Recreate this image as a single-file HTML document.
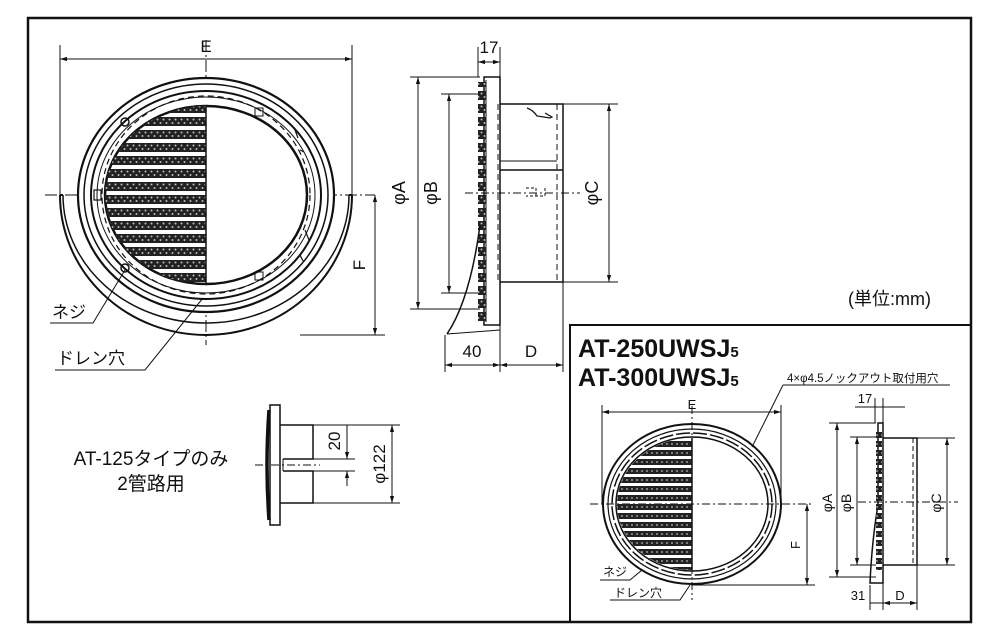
<!DOCTYPE html>
<html><head><meta charset="utf-8"><style>
html,body{margin:0;padding:0;background:#fff;}
svg{display:block;}
text{font-family:"Liberation Sans","Noto Sans CJK JP",sans-serif;fill:#111;}
</style></head><body>
<svg width="1000" height="642" viewBox="0 0 1000 642" xmlns="http://www.w3.org/2000/svg">
<defs>
<pattern id="grille" x="0" y="0" width="6" height="13" patternUnits="userSpaceOnUse">
<rect x="0" y="0" width="6" height="9" fill="#222"/>
<circle cx="1.5" cy="2.5" r="1" fill="#bbb"/><circle cx="4.5" cy="6" r="1" fill="#bbb"/>
</pattern>
<pattern id="grille2" x="0" y="0" width="5" height="9" patternUnits="userSpaceOnUse">
<rect x="0" y="0" width="5" height="6" fill="#222"/>
<circle cx="2" cy="3" r="0.9" fill="#bbb"/>
</pattern>
<clipPath id="lh"><rect x="90" y="90" width="116" height="210"/></clipPath>
<clipPath id="lh2"><rect x="610" y="420" width="82" height="170"/></clipPath>
<marker id="ar" viewBox="0 0 10 10" refX="10" refY="5" markerWidth="7" markerHeight="7" orient="auto-start-reverse"><path d="M0,2 L10,5 L0,8 z" fill="#111"/></marker>
</defs>
<g fill="none" stroke="#111">
<!-- outer frame -->
<rect x="28" y="18" width="943" height="604" stroke-width="2.5"/>
<rect x="570" y="325" width="401" height="297" stroke-width="2"/>

<!-- ===== main front view ===== -->
<g stroke-width="1">
<line x1="60" y1="45" x2="60" y2="195"/><line x1="352" y1="45" x2="352" y2="195"/>
<line x1="60" y1="59" x2="352" y2="59" marker-start="url(#ar)" marker-end="url(#ar)"/>
<line x1="45" y1="195" x2="375" y2="195" stroke-dasharray="12,3,2,3"/>
<line x1="206" y1="40" x2="206" y2="345" stroke-dasharray="12,3,2,3"/>
<line x1="300" y1="335" x2="385" y2="335"/>
<line x1="375" y1="195" x2="375" y2="335" marker-start="url(#ar)" marker-end="url(#ar)"/>
</g>
<!-- hood -->
<path d="M60,195 A146,140 0 0 0 352,195" stroke-width="2"/>
<path d="M63,195 A143,128 0 0 0 349,195" stroke-width="1.5"/>
<line x1="60" y1="195" x2="63" y2="195" stroke-width="2"/>
<line x1="349" y1="195" x2="352" y2="195" stroke-width="2"/>
<ellipse cx="206" cy="195" rx="128" ry="117" stroke-width="2.2" fill="#fff"/>
<ellipse cx="206" cy="195" rx="122" ry="111" stroke-width="1.5"/>
<ellipse cx="206" cy="195" rx="115" ry="104" stroke-width="2"/>
<ellipse cx="206" cy="195" rx="109" ry="98" stroke-width="1"/>
<ellipse cx="206" cy="195" rx="104" ry="99" stroke-dasharray="6,4" stroke-width="1.2"/>
<ellipse cx="206" cy="195" rx="101" ry="89" stroke-width="2.5"/>
<g clip-path="url(#lh)"><ellipse cx="206" cy="195" rx="101" ry="89" fill="url(#grille)" stroke="none"/></g>
<line x1="206" y1="106" x2="206" y2="285" stroke-width="1.5"/>
<circle cx="125" cy="122" r="4" stroke-width="1.5"/>
<circle cx="125" cy="268" r="4" stroke-width="1.5"/>
<rect x="94" y="190" width="7" height="10" stroke-width="1.2"/>
<path d="M295,130 l3,8 M300,150 l4,2 M305,230 l4,10 M300,255 l3,6" stroke-width="1.2"/>
<rect x="255" y="108" width="8" height="8" stroke-width="1"/>
<rect x="255" y="272" width="8" height="8" stroke-width="1"/>
<!-- leaders -->
<path d="M50,323 L93,323 L125,270" stroke-width="1"/>
<path d="M55,370 L145,370 L203,298" stroke-width="1"/>

<!-- ===== main side view ===== -->
<g stroke-width="1">
<line x1="478" y1="47" x2="478" y2="77"/><line x1="500" y1="47" x2="500" y2="77"/>
<line x1="478" y1="62" x2="500" y2="62" marker-start="url(#ar)" marker-end="url(#ar)"/>
<line x1="410" y1="77" x2="480" y2="77"/><line x1="410" y1="309" x2="480" y2="309"/>
<line x1="418" y1="77" x2="418" y2="309" marker-start="url(#ar)" marker-end="url(#ar)"/>
<line x1="441" y1="94" x2="480" y2="94"/><line x1="441" y1="293" x2="480" y2="293"/>
<line x1="449" y1="94" x2="449" y2="293" marker-start="url(#ar)" marker-end="url(#ar)"/>
<line x1="563" y1="104" x2="618" y2="104"/><line x1="563" y1="282" x2="618" y2="282"/>
<line x1="609" y1="104" x2="609" y2="282" marker-start="url(#ar)" marker-end="url(#ar)"/>
<line x1="465" y1="193" x2="580" y2="193" stroke-dasharray="8,3,2,3"/>
<line x1="445" y1="335" x2="445" y2="372"/><line x1="500" y1="325" x2="500" y2="372"/><line x1="563" y1="282" x2="563" y2="372"/>
<line x1="445" y1="365" x2="500" y2="365" marker-start="url(#ar)" marker-end="url(#ar)"/>
<line x1="500" y1="365" x2="563" y2="365" marker-start="url(#ar)" marker-end="url(#ar)"/>
</g>
<path d="M484,77 L500,77 L500,325 L484,325 Z" stroke-width="1.5"/>
<path d="M486,80 L486,322" stroke-width="1"/>
<rect x="478" y="82" width="8" height="240" fill="url(#grille)" stroke="none"/>
<path d="M447,334 Q470,300 480,225" stroke-width="1.5"/>
<path d="M447,334 L500,330" stroke-width="1"/>
<path d="M500,104 L563,104 L563,282 L500,282" stroke-width="1.5"/>
<line x1="557" y1="104" x2="557" y2="282" stroke-dasharray="6,4"/>
<line x1="500" y1="161" x2="557" y2="161"/><line x1="500" y1="170" x2="563" y2="170" stroke-width="1.5"/>
<path d="M527,108 Q533,110 537,116 L550,118 L552,117 L545,113" stroke-width="1.2"/>
<path d="M526,188 h10 v8 M545,188 v8 h-19" stroke-dasharray="3,2"/>
<line x1="498" y1="104" x2="498" y2="282" stroke-dasharray="6,4"/>

<!-- ===== lower-left side view ===== -->
<path d="M270,405 L280,405 L280,525 L270,525 Z" stroke-width="1.5"/>
<path d="M269,410 Q265,465 269,520" stroke-width="3.5"/>
<path d="M280,425 L313,425 L313,459 L283,459 M283,471 L313,471 L313,503 L280,503" stroke-width="1.5"/>
<line x1="283" y1="459" x2="283" y2="471"/>
<g stroke-width="1">
<line x1="255" y1="465" x2="320" y2="465" stroke-dasharray="8,3,2,3"/>
<line x1="313" y1="425" x2="400" y2="425"/><line x1="313" y1="503" x2="400" y2="503"/>
<line x1="313" y1="459" x2="355" y2="459"/><line x1="313" y1="471" x2="355" y2="471"/>
<line x1="347" y1="425" x2="347" y2="459" marker-end="url(#ar)"/>
<line x1="347" y1="486" x2="347" y2="471" marker-end="url(#ar)"/>
<line x1="392" y1="425" x2="392" y2="503" marker-start="url(#ar)" marker-end="url(#ar)"/>
</g>

<!-- ===== small front view ===== -->
<g stroke-width="1">
<line x1="602" y1="405" x2="602" y2="504"/><line x1="781" y1="405" x2="781" y2="504"/>
<line x1="602" y1="412" x2="781" y2="412" marker-start="url(#ar)" marker-end="url(#ar)"/>
<line x1="590" y1="504" x2="812" y2="504" stroke-dasharray="8,3,2,3"/>
<line x1="692" y1="406" x2="692" y2="600" stroke-dasharray="8,3,2,3"/>
<line x1="692" y1="585" x2="815" y2="585"/>
<line x1="807" y1="504" x2="807" y2="585" marker-start="url(#ar)" marker-end="url(#ar)"/>
</g>
<ellipse cx="692" cy="504" rx="89" ry="80" stroke-width="2"/>
<ellipse cx="692" cy="504" rx="84" ry="75" stroke-width="1.2"/>
<ellipse cx="692" cy="504" rx="80" ry="71" stroke-width="1.5" stroke-dasharray="14,3"/>
<ellipse cx="692" cy="504" rx="76" ry="67" stroke-width="1.5"/>
<g clip-path="url(#lh2)"><ellipse cx="692" cy="504" rx="75" ry="66" fill="url(#grille2)" stroke="none"/></g>
<line x1="692" y1="438" x2="692" y2="570" stroke-width="1.5"/>
<path d="M783,385 L950,385 M783,385 L752,447" stroke-width="1"/>
<path d="M600,580 L630,580 L642,570 M610,600 L680,600 L690,585" stroke-width="1"/>

<!-- ===== small side view ===== -->
<g stroke-width="1">
<line x1="875" y1="398" x2="875" y2="423"/><line x1="883" y1="398" x2="883" y2="423"/>
<line x1="855" y1="407" x2="905" y2="407"/>
<line x1="829" y1="423" x2="876" y2="423"/><line x1="829" y1="577" x2="876" y2="577"/>
<line x1="837" y1="423" x2="837" y2="577" marker-start="url(#ar)" marker-end="url(#ar)"/>
<line x1="850" y1="437" x2="876" y2="437"/><line x1="850" y1="565" x2="876" y2="565"/>
<line x1="857" y1="437" x2="857" y2="565" marker-start="url(#ar)" marker-end="url(#ar)"/>
<line x1="917" y1="438" x2="955" y2="438"/><line x1="917" y1="565" x2="955" y2="565"/>
<line x1="947" y1="438" x2="947" y2="565" marker-start="url(#ar)" marker-end="url(#ar)"/>
<line x1="858" y1="502" x2="958" y2="502" stroke-dasharray="8,3,2,3"/>
<line x1="870" y1="585" x2="870" y2="610"/><line x1="883" y1="583" x2="883" y2="610"/><line x1="917" y1="565" x2="917" y2="610"/>
<line x1="870" y1="603" x2="883" y2="603"/>
<line x1="883" y1="603" x2="917" y2="603" marker-start="url(#ar)" marker-end="url(#ar)"/>
</g>
<path d="M878,423 L883,423 L883,583 L870,583 Q872,540 878,505 Z" stroke-width="1.5"/>
<rect x="876" y="430" width="6" height="140" fill="url(#grille2)" stroke="none"/>
<path d="M883,438 L917,438 L917,565 L883,565" stroke-width="1.5"/>
<line x1="913" y1="438" x2="913" y2="565" stroke-dasharray="5,3"/>
</g>

<!-- texts -->
<text x="206" y="52" font-size="17" text-anchor="middle">E</text>
<text x="489" y="53" font-size="17" text-anchor="middle">17</text>
<text transform="translate(405,193) rotate(-90)" font-size="18" text-anchor="middle">φA</text>
<text transform="translate(437,193) rotate(-90)" font-size="18" text-anchor="middle">φB</text>
<text transform="translate(598,193) rotate(-90)" font-size="18" text-anchor="middle">φC</text>
<text transform="translate(365,265) rotate(-90)" font-size="17" text-anchor="middle">F</text>
<text x="472" y="357" font-size="17" text-anchor="middle">40</text>
<text x="531" y="357" font-size="17" text-anchor="middle">D</text>
<text x="52" y="318" font-size="17">ネジ</text>
<text x="57" y="364" font-size="17">ドレン穴</text>
<text x="848" y="305" font-size="18">(単位:mm)</text>
<text x="151" y="465" font-size="19" text-anchor="middle">AT-125タイプのみ</text>
<text x="151" y="490" font-size="19" text-anchor="middle">2管路用</text>
<text transform="translate(340,441) rotate(-90)" font-size="17" text-anchor="middle">20</text>
<text transform="translate(385,464) rotate(-90)" font-size="17" text-anchor="middle">φ122</text>
<text x="578" y="357" font-size="25" font-weight="bold">AT-250UWSJ<tspan font-size="15">5</tspan></text>
<text x="578" y="386" font-size="25" font-weight="bold">AT-300UWSJ<tspan font-size="15">5</tspan></text>
<text x="787" y="382" font-size="11.5">4×φ4.5ノックアウト取付用穴</text>
<text x="692" y="409" font-size="13" text-anchor="middle">E</text>
<text transform="translate(800,545) rotate(-90)" font-size="13" text-anchor="middle">F</text>
<text x="603" y="576" font-size="12">ネジ</text>
<text x="614" y="597" font-size="12">ドレン穴</text>
<text x="865" y="403" font-size="13" text-anchor="middle">17</text>
<text transform="translate(832,503) rotate(-90)" font-size="14" text-anchor="middle">φA</text>
<text transform="translate(851,503) rotate(-90)" font-size="14" text-anchor="middle">φB</text>
<text transform="translate(941,503) rotate(-90)" font-size="14" text-anchor="middle">φC</text>
<text x="858" y="600" font-size="13" text-anchor="middle">31</text>
<text x="900" y="600" font-size="13" text-anchor="middle">D</text>
</svg>
</body></html>
